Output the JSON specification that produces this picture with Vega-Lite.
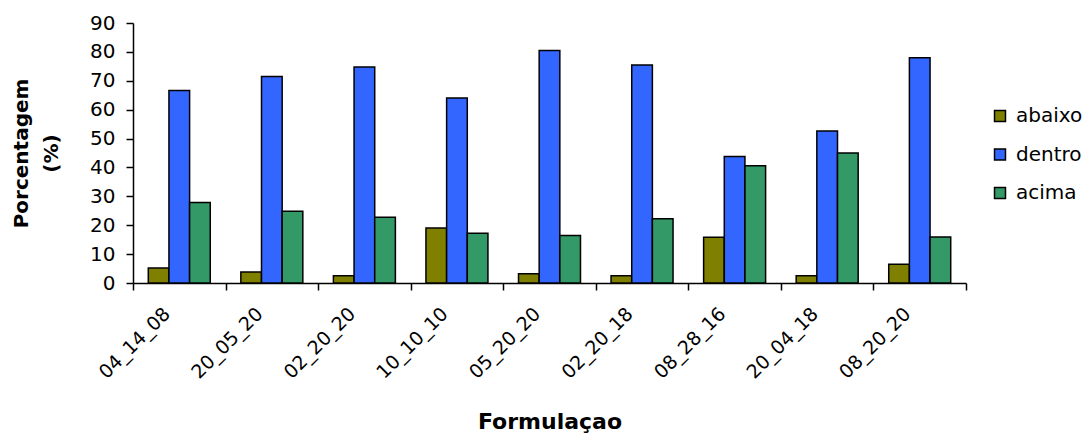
{
  "$schema": "https://vega.github.io/schema/vega-lite/v6.json",
  "autosize": "none",
  "width": 833,
  "height": 260,
  "padding": {"left": 133, "top": 23, "right": 119, "bottom": 151},
  "background": "white",
  "config": {
    "view": {"stroke": null},
    "font": "DejaVu Sans",
    "axis": {"grid": false, "domainColor": "black", "tickColor": "black", "labelColor": "black", "titleColor": "black", "labelFont": "DejaVu Sans", "titleFont": "DejaVu Sans"},
    "legend": {"labelFont": "DejaVu Sans"}
  },
  "data": {
    "values": [
      {"f": "04_14_08", "s": "abaixo", "v": 5.2},
      {"f": "04_14_08", "s": "dentro", "v": 66.6},
      {"f": "04_14_08", "s": "acima", "v": 27.9},
      {"f": "20_05_20", "s": "abaixo", "v": 3.8},
      {"f": "20_05_20", "s": "dentro", "v": 71.5},
      {"f": "20_05_20", "s": "acima", "v": 24.8},
      {"f": "02_20_20", "s": "abaixo", "v": 2.5},
      {"f": "02_20_20", "s": "dentro", "v": 74.8},
      {"f": "02_20_20", "s": "acima", "v": 22.8},
      {"f": "10_10_10", "s": "abaixo", "v": 19.0},
      {"f": "10_10_10", "s": "dentro", "v": 64.0},
      {"f": "10_10_10", "s": "acima", "v": 17.2},
      {"f": "05_20_20", "s": "abaixo", "v": 3.2},
      {"f": "05_20_20", "s": "dentro", "v": 80.5},
      {"f": "05_20_20", "s": "acima", "v": 16.4},
      {"f": "02_20_18", "s": "abaixo", "v": 2.5},
      {"f": "02_20_18", "s": "dentro", "v": 75.5},
      {"f": "02_20_18", "s": "acima", "v": 22.2},
      {"f": "08_28_16", "s": "abaixo", "v": 15.8},
      {"f": "08_28_16", "s": "dentro", "v": 43.8},
      {"f": "08_28_16", "s": "acima", "v": 40.6},
      {"f": "20_04_18", "s": "abaixo", "v": 2.5},
      {"f": "20_04_18", "s": "dentro", "v": 52.6},
      {"f": "20_04_18", "s": "acima", "v": 45.0},
      {"f": "08_20_20", "s": "abaixo", "v": 6.5},
      {"f": "08_20_20", "s": "dentro", "v": 78.0},
      {"f": "08_20_20", "s": "acima", "v": 15.9}
    ]
  },
  "mark": {"type": "bar", "stroke": "black", "strokeWidth": 1.5},
  "encoding": {
    "x": {
      "field": "f", "type": "nominal", "sort": null,
      "scale": {"paddingInner": 0, "paddingOuter": 0},
      "axis": {
        "title": "Formulaçao", "titleFontSize": 22, "titleFontWeight": "bold",
        "titleY": 128, "titleBaseline": "top",
        "labelAngle": -45, "labelFontSize": 19, "labelPadding": 14, "labelOffset": -19,
        "tickBand": "extent", "tickSize": 7, "domainWidth": 1.5, "tickWidth": 1.5
      }
    },
    "xOffset": {
      "field": "s", "type": "nominal", "sort": ["abaixo", "dentro", "acima"],
      "scale": {"paddingInner": 0, "paddingOuter": 0.74}
    },
    "y": {
      "field": "v", "type": "quantitative",
      "scale": {"domain": [0, 90], "nice": false},
      "axis": {
        "values": [0, 10, 20, 30, 40, 50, 60, 70, 80, 90],
        "title": ["Porcentagem", "(%)"], "titleFontSize": 20, "titleFontWeight": "bold", "titleLineHeight": 30,
        "titlePadding": 28,
        "labelFontSize": 20, "labelPadding": 11, "tickSize": 7, "domainWidth": 1.5, "tickWidth": 1.5
      }
    },
    "color": {
      "field": "s", "type": "nominal", "sort": ["abaixo", "dentro", "acima"],
      "scale": {"domain": ["abaixo", "dentro", "acima"], "range": ["#808000", "#3366FF", "#339966"]},
      "legend": {
        "title": null, "orient": "none", "legendX": 857, "legendY": 83,
        "symbolType": "square", "symbolSize": 120, "symbolStrokeColor": "black", "symbolStrokeWidth": 1.5,
        "labelFontSize": 20, "labelColor": "black", "rowPadding": 18.5, "labelOffset": 6
      }
    }
  }
}
